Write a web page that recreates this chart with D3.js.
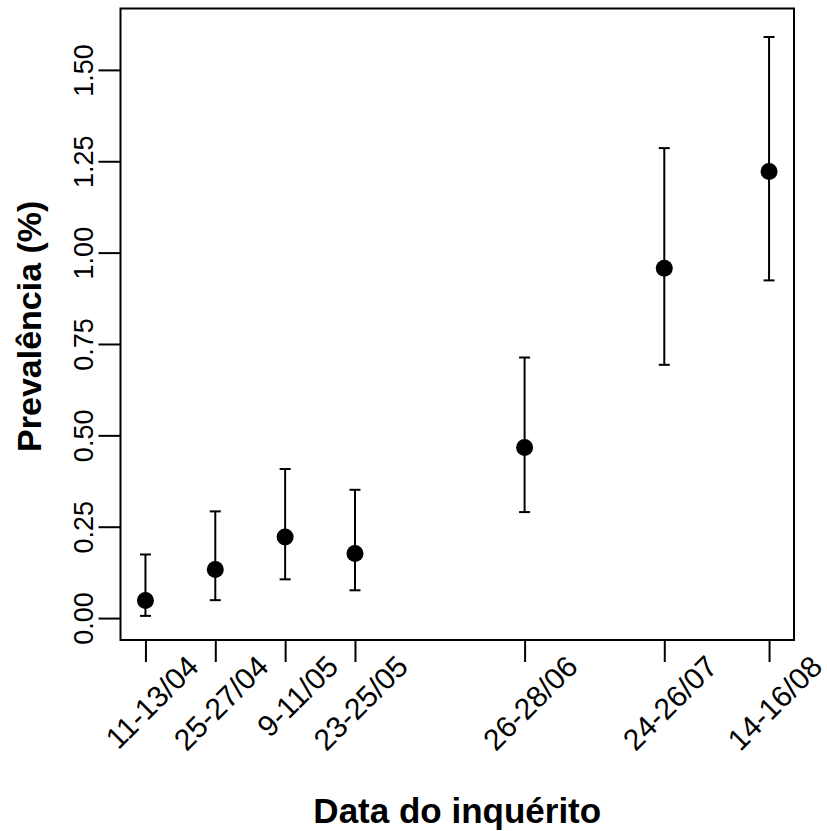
<!DOCTYPE html>
<html>
<head>
<meta charset="utf-8">
<script src="https://cdn.jsdelivr.net/npm/d3@7"></script>
<style>
  body { margin: 0; background: #fff; }
  svg { display: block; }
  text { font-family: "Liberation Sans", Arial, sans-serif; fill: #000; }
</style>
</head>
<body>
<svg id="chart" width="827" height="831"></svg>
<script>
// Survey rounds: labels, and mid-day of each round as day of year
var survey_labels = ["11-13/04", "25-27/04", "9-11/05", "23-25/05", "26-28/06", "24-26/07", "14-16/08"];
var survey_days = [102, 116, 130, 144, 178, 206, 227];

// Prevalence (%) with 95% interval
var prevalence = [0.048, 0.133, 0.222, 0.177, 0.467, 0.957, 1.222];
var ci_lower = [0.006, 0.049, 0.106, 0.076, 0.290, 0.693, 0.924];
var ci_upper = [0.174, 0.292, 0.408, 0.351, 0.713, 1.286, 1.590];

var y_ticks = [0, 0.25, 0.5, 0.75, 1.0, 1.25, 1.5];

var svg = d3.select("#chart");

// plot region (R-style box); "top" is taken by window.top, so prefix them
var plot_left = 120.5, plot_right = 794, plot_top = 8.5, plot_bottom = 640;

var x = d3.scaleLinear().domain([97, 232]).range([plot_left, plot_right]);
var y = d3.scaleLinear().domain([-0.06, 1.668]).range([plot_bottom, plot_top]);

var points = survey_days.map(function (d, i) {
    return { day: d, p: prevalence[i], lo: ci_lower[i], hi: ci_upper[i] };
});

// x axis, rotated labels
var xAxis = svg.append("g")
    .attr("transform", "translate(0," + plot_bottom + ")")
    .call(d3.axisBottom(x)
        .tickValues(survey_days)
        .tickSize(22)
        .tickFormat(function (d, i) { return survey_labels[i]; }));
xAxis.select(".domain").remove();
xAxis.selectAll(".tick line").attr("stroke", "#000").attr("stroke-width", 2);
xAxis.selectAll(".tick text")
    .attr("font-size", 30)
    .attr("text-anchor", "end")
    .attr("x", 0).attr("y", 0).attr("dy", "0.35em")
    .attr("transform", "translate(47,21) rotate(-45)");

// y axis, labels turned like R's las=0
var yAxis = svg.append("g")
    .attr("transform", "translate(" + plot_left + ",0)")
    .call(d3.axisLeft(y)
        .tickValues(y_ticks)
        .tickSize(22)
        .tickFormat(d3.format(".2f")));
yAxis.select(".domain").remove();
yAxis.selectAll(".tick line").attr("stroke", "#000").attr("stroke-width", 2);
yAxis.selectAll(".tick text")
    .attr("font-size", 27)
    .attr("text-anchor", "middle")
    .attr("x", 0).attr("y", 0).attr("dy", 0)
    .attr("transform", "translate(-28,0) rotate(-90)");

// box
svg.append("rect")
    .attr("x", plot_left).attr("y", plot_top)
    .attr("width", plot_right - plot_left).attr("height", plot_bottom - plot_top)
    .attr("fill", "none").attr("stroke", "#000").attr("stroke-width", 2);

// error bars
var bars = svg.append("g").attr("stroke", "#000").attr("stroke-width", 2);
bars.selectAll("line.ci").data(points).enter().append("line")
    .attr("class", "ci")
    .attr("x1", function (d) { return x(d.day); })
    .attr("x2", function (d) { return x(d.day); })
    .attr("y1", function (d) { return y(d.lo); })
    .attr("y2", function (d) { return y(d.hi); });
bars.selectAll("line.cap-hi").data(points).enter().append("line")
    .attr("class", "cap-hi")
    .attr("x1", function (d) { return x(d.day) - 5.5; })
    .attr("x2", function (d) { return x(d.day) + 5.5; })
    .attr("y1", function (d) { return y(d.hi); })
    .attr("y2", function (d) { return y(d.hi); });
bars.selectAll("line.cap-lo").data(points).enter().append("line")
    .attr("class", "cap-lo")
    .attr("x1", function (d) { return x(d.day) - 5.5; })
    .attr("x2", function (d) { return x(d.day) + 5.5; })
    .attr("y1", function (d) { return y(d.lo); })
    .attr("y2", function (d) { return y(d.lo); });

// points
svg.append("g").selectAll("circle").data(points).enter().append("circle")
    .attr("cx", function (d) { return x(d.day); })
    .attr("cy", function (d) { return y(d.p); })
    .attr("r", 8.5)
    .attr("fill", "#000");

// axis titles
svg.append("text")
    .attr("x", (plot_left + plot_right) / 2).attr("y", 823)
    .attr("text-anchor", "middle")
    .attr("font-size", 35).attr("font-weight", "bold")
    .text("Data do inquérito");

svg.append("text")
    .attr("transform", "translate(41," + ((plot_top + plot_bottom) / 2 + 2) + ") rotate(-90)")
    .attr("text-anchor", "middle")
    .attr("font-size", 34).attr("font-weight", "bold")
    .text("Prevalência (%)");
</script>
</body>
</html>
